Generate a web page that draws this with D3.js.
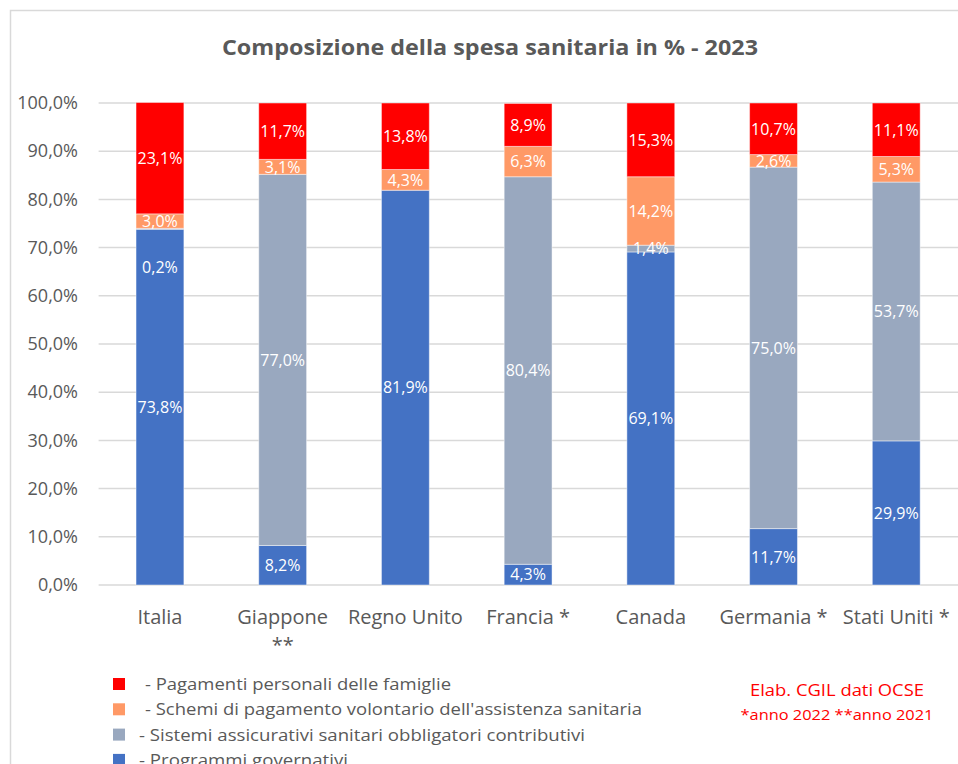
<!DOCTYPE html>
<html><head><meta charset="utf-8">
<script src="https://cdn.jsdelivr.net/npm/d3@7"></script>
<style>html,body{margin:0;padding:0;background:#fff;}svg{display:block;}</style>
</head><body>
<svg id="chart" width="958" height="764"></svg>
<script>
const categories = ["Italia", "Giappone **", "Regno Unito", "Francia *", "Canada", "Germania *", "Stati Uniti *"];
const seriesNames = [
  "Programmi governativi",
  "Sistemi assicurativi sanitari obbligatori contributivi",
  "Schemi di pagamento volontario dell'assistenza sanitaria",
  "Pagamenti personali delle famiglie"
];
const programmiGovernativi = [73.8, 8.2, 81.9, 4.3, 69.1, 11.7, 29.9];
const sistemiObbligatori   = [0.2, 77.0, null, 80.4, 1.4, 75.0, 53.7];
const schemiVolontari      = [3.0, 3.1, 4.3, 6.3, 14.2, 2.6, 5.3];
const pagamentiFamiglie    = [23.1, 11.7, 13.8, 8.9, 15.3, 10.7, 11.1];
const yTicks = [0, 10, 20, 30, 40, 50, 60, 70, 80, 90, 100];
const colors = ["#4472C4", "#99A8BF", "#FF9966", "#FF0000"];

const series = [programmiGovernativi, sistemiObbligatori, schemiVolontari, pagamentiFamiglie];

const svg = d3.select("#chart");
const fmt = d3.formatLocale({decimal: ",", thousands: ".", grouping: [3], currency: ["", "€"]}).format(".1f");

// frame
svg.append("rect").attr("x", 10.5).attr("y", 10.5).attr("width", 1000).attr("height", 1000)
  .attr("fill", "#fff").attr("stroke", "#D9D9D9").attr("stroke-width", 1.5);

// title
svg.append("text").attr("x", 490).attr("y", 55).attr("text-anchor", "middle")
  .attr("font-family", "Open Sans").attr("font-weight", "bold").attr("font-size", 22)
  .attr("fill", "#595959").attr("textLength", 536).attr("lengthAdjust", "spacingAndGlyphs")
  .text("Composizione della spesa sanitaria in % - 2023");

const x = d3.scaleBand().domain(categories).range([98.6, 957.6]).paddingInner(0.61).paddingOuter(0.305);
const y = d3.scaleLinear().domain([0, 100]).range([585, 103]);

// gridlines
svg.append("g").selectAll("line").data(yTicks).join("line")
  .attr("x1", 98.6).attr("x2", 958).attr("y1", d => y(d)).attr("y2", d => y(d))
  .attr("stroke", "#D9D9D9").attr("stroke-width", 1.5);

// y axis
const yAxis = d3.axisLeft(y).tickValues(yTicks).tickFormat(d => fmt(d) + "%").tickSize(0).tickPadding(0);
const gy = svg.append("g").attr("transform", "translate(78,0)").call(yAxis);
gy.select(".domain").remove();
gy.selectAll("text").attr("font-family", "Open Sans").attr("font-size", 18).attr("fill", "#595959");

// stacked bars
const rows = categories.map((c, i) => {
  const o = {cat: c};
  series.forEach((s, k) => o["s" + k] = s[i] == null ? 0 : s[i]);
  return o;
});
const stack = d3.stack().keys(["s0", "s1", "s2", "s3"]);
const stacked = stack(rows);

const gBars = svg.append("g");
stacked.forEach((layer, k) => {
  const g = gBars.append("g");
  g.selectAll("rect").data(layer).join("rect")
    .attr("x", d => x(d.data.cat))
    .attr("width", x.bandwidth())
    .attr("y", d => y(d[1]))
    .attr("height", d => Math.max(0, y(d[0]) - y(d[1])))
    .attr("fill", colors[k])
    .attr("stroke", "#ffffff").attr("stroke-opacity", 0.45).attr("stroke-width", 1);
});
// labels
stacked.forEach((layer, k) => {
  svg.append("g").selectAll("text").data(layer.filter((d, i) => series[k][i] != null)).join("text")
    .attr("x", d => x(d.data.cat) + x.bandwidth() / 2)
    .attr("y", d => {
      const v = d[1] - d[0];
      const c = y((d[0] + d[1]) / 2);
      return v < 1 ? c + 38 : c;
    })
    .attr("dy", "0.36em")
    .attr("text-anchor", "middle")
    .attr("font-family", "Open Sans").attr("font-size", 16).attr("fill", "#fff")
    .text(d => fmt(d[1] - d[0]) + "%");
});

// x axis labels
const gx = svg.append("g");
categories.forEach(c => {
  const parts = c.endsWith(" **") ? [c.replace(" **", ""), "**"] : [c];
  parts.forEach((p, j) => {
    gx.append("text").attr("text-anchor", "middle")
      .attr("font-family", "Open Sans").attr("font-size", 20).attr("fill", "#595959")
      .attr("x", x(c) + x.bandwidth() / 2).attr("y", 624 + j * 28).text(p);
  });
});

// legend
const legendItems = [
  {label: "  - Pagamenti personali delle famiglie", color: colors[3], w: 306},
  {label: "  - Schemi di pagamento volontario dell'assistenza sanitaria", color: colors[2], w: 497},
  {label: "- Sistemi assicurativi sanitari obbligatori contributivi", color: colors[1], w: 446},
  {label: "- Programmi governativi", color: colors[0], w: 209}
];
const lg = svg.append("g");
legendItems.forEach((it, i) => {
  const cy = 684 + i * 25.3;
  lg.append("rect").attr("x", 113).attr("y", cy - 6).attr("width", 12).attr("height", 12).attr("fill", it.color);
  const sp = it.label.startsWith("  ");
  lg.append("text").attr("x", sp ? 145 : 139).attr("y", cy).attr("dy", "0.36em")
    .attr("font-family", "Open Sans").attr("font-size", 17).attr("fill", "#595959")
    .attr("textLength", it.w).attr("lengthAdjust", "spacingAndGlyphs")
    .text(it.label.trim());
});

// source note
svg.append("text").attr("x", 837).attr("y", 690).attr("dy", "0.36em").attr("text-anchor", "middle")
  .attr("font-family", "Open Sans").attr("font-size", 17).attr("fill", "#FF0000")
  .attr("textLength", 174).attr("lengthAdjust", "spacingAndGlyphs").text("Elab. CGIL dati OCSE");
svg.append("text").attr("x", 837).attr("y", 715).attr("dy", "0.36em").attr("text-anchor", "middle")
  .attr("font-family", "Open Sans").attr("font-size", 15).attr("fill", "#FF0000")
  .attr("textLength", 193).attr("lengthAdjust", "spacingAndGlyphs").text("*anno 2022 **anno 2021");
</script>
</body></html>
